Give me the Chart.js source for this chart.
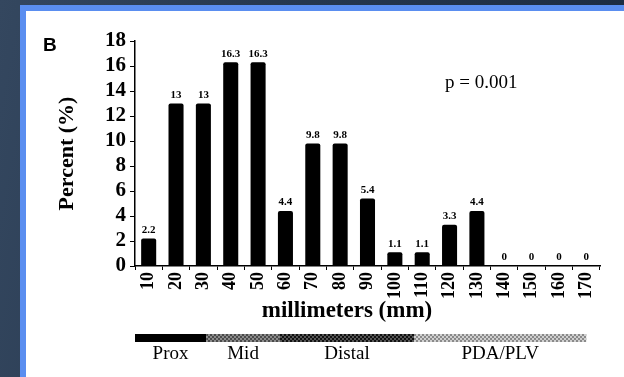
<!DOCTYPE html>
<html>
<head>
<meta charset="utf-8">
<script src="https://cdn.jsdelivr.net/npm/chart.js"></script>
<style>
  html, body { margin: 0; padding: 0; }
  body {
    width: 624px; height: 377px; overflow: hidden; position: relative;
    background: linear-gradient(100deg, #34475f 0%, #26384f 40%, #1b2a40 100%);
  }
  #panel {
    position: absolute; left: 20px; top: 5px; width: 610px; height: 380px;
    border: 6px solid #5a8ef0; background: #fff;
  }
  #covyChart { position: absolute; left: 0; top: 0; }
</style>
</head>
<body>
<div id="panel"></div>
<canvas id="covyChart" width="624" height="377"></canvas>
<script>
// chart data
const mmLabels = ['10', '20', '30', '40', '50', '60', '70', '80', '90', '100', '110', '120', '130', '140', '150', '160', '170'];
const percentValues = [2.2, 13, 13, 16.3, 16.3, 4.4, 9.8, 9.8, 5.4, 1.1, 1.1, 3.3, 4.4, 0, 0, 0, 0];
const yTicks = [0, 2, 4, 6, 8, 10, 12, 14, 16, 18];
// segments under the axis, bounds in category units
const segNames = ['Prox', 'Mid', 'Distal', 'PDA/PLV'];
const segBounds = [0, 2.6, 5.3, 10.2, 16.5];

const serif = "'Liberation Serif', 'Times New Roman', serif";

const makePattern = (ctx, bg, fg, step) => {
  let c = document.createElement('canvas');
  c.width = step * 2; c.height = step * 2;
  let p = c.getContext('2d');
  p.fillStyle = bg; p.fillRect(0, 0, c.width, c.height);
  p.fillStyle = fg;
  p.fillRect(0, 0, step, step);
  p.fillRect(step, step, step, step);
  return ctx.createPattern(c, 'repeat');
};

const extrasPlugin = {
  id: 'extras',
  afterDatasetsDraw: (chart) => {
    const ctx = chart.ctx;
    const meta = chart.getDatasetMeta(0);
    ctx.save();
    ctx.fillStyle = '#000';
    ctx.font = 'bold 11px ' + serif;
    ctx.textAlign = 'center';
    ctx.textBaseline = 'bottom';
    meta.data.forEach((bar, i) => {
      ctx.fillText(String(percentValues[i]), bar.x, bar.y - 3);
    });
    ctx.restore();
  },
  afterDraw: (chart) => {
    const ctx = chart.ctx;
    const area = chart.chartArea;
    const step = (area.right - area.left) / mmLabels.length;
    ctx.save();
    // panel letter
    ctx.fillStyle = '#000';
    ctx.font = 'bold 19px "Liberation Sans", Arial, sans-serif';
    ctx.textAlign = 'left';
    ctx.textBaseline = 'alphabetic';
    ctx.fillText('B', 43, 51);
    // p value
    ctx.font = '19px ' + serif;
    ctx.fillText('p = 0.001', 445, 88);
    // x title
    ctx.font = 'bold 23px ' + serif;
    ctx.textAlign = 'center';
    ctx.textBaseline = 'middle';
    ctx.fillText('millimeters (mm)', 347, 311);
    // segment bar
    const fills = [
      '#000',
      makePattern(ctx, '#8a8a8a', '#4a4a4a', 2),
      makePattern(ctx, '#111', '#555', 2),
      makePattern(ctx, '#d0d0d0', '#8a8a8a', 2)
    ];
    ctx.font = '19px ' + serif;
    segNames.forEach((name, i) => {
      const x0 = area.left + segBounds[i] * step;
      const x1 = area.left + segBounds[i + 1] * step;
      ctx.fillStyle = fills[i];
      ctx.fillRect(x0, 334, x1 - x0, 8);
      ctx.fillStyle = '#000';
      ctx.fillText(name, (x0 + x1) / 2, 354);
    });
    ctx.restore();
  }
};

var ctx = document.getElementById('covyChart').getContext('2d');

var covyChart = new Chart(ctx, {
  type: 'bar',
  data: {
    labels: mmLabels,
    datasets: [{
      data: percentValues,
      backgroundColor: '#000',
      borderWidth: 0,
      borderRadius: { topLeft: 2, topRight: 2 },
      categoryPercentage: 1.0,
      barPercentage: 0.55
    }]
  },
  options: {
    responsive: false,
    animation: false,
    layout: { padding: { left: 50, right: 24, top: 41, bottom: 57 } },
    plugins: {
      legend: { display: false },
      tooltip: { enabled: false }
    },
    scales: {
      x: {
        afterFit: (s) => { s.height = 54; },
        grid: { offset: true, drawOnChartArea: false, tickLength: 4, color: '#000', lineWidth: 1 },
        border: { display: true, color: '#000', width: 1.5 },
        ticks: {
          color: '#000', padding: 2, minRotation: 90, maxRotation: 90, autoSkip: false,
          font: { family: serif, size: 18, weight: 'bold' }
        }
      },
      y: {
        min: 0, max: 18,
        afterFit: (s) => { s.width = 85; },
        afterBuildTicks: (s) => { s.ticks = yTicks.map(v => ({ value: v })); },
        grid: { drawOnChartArea: false, tickLength: 5, color: '#000', lineWidth: 1 },
        border: { display: true, color: '#000', width: 1.5 },
        ticks: {
          color: '#000', padding: 4, autoSkip: false,
          font: { family: serif, size: 21, weight: 'bold' }
        },
        title: {
          display: true, text: 'Percent (%)', color: '#000',
          padding: { top: 4, bottom: 0 },
          font: { family: serif, size: 22, weight: 'bold' }
        }
      }
    }
  },
  plugins: [extrasPlugin]
});
</script>
</body>
</html>
